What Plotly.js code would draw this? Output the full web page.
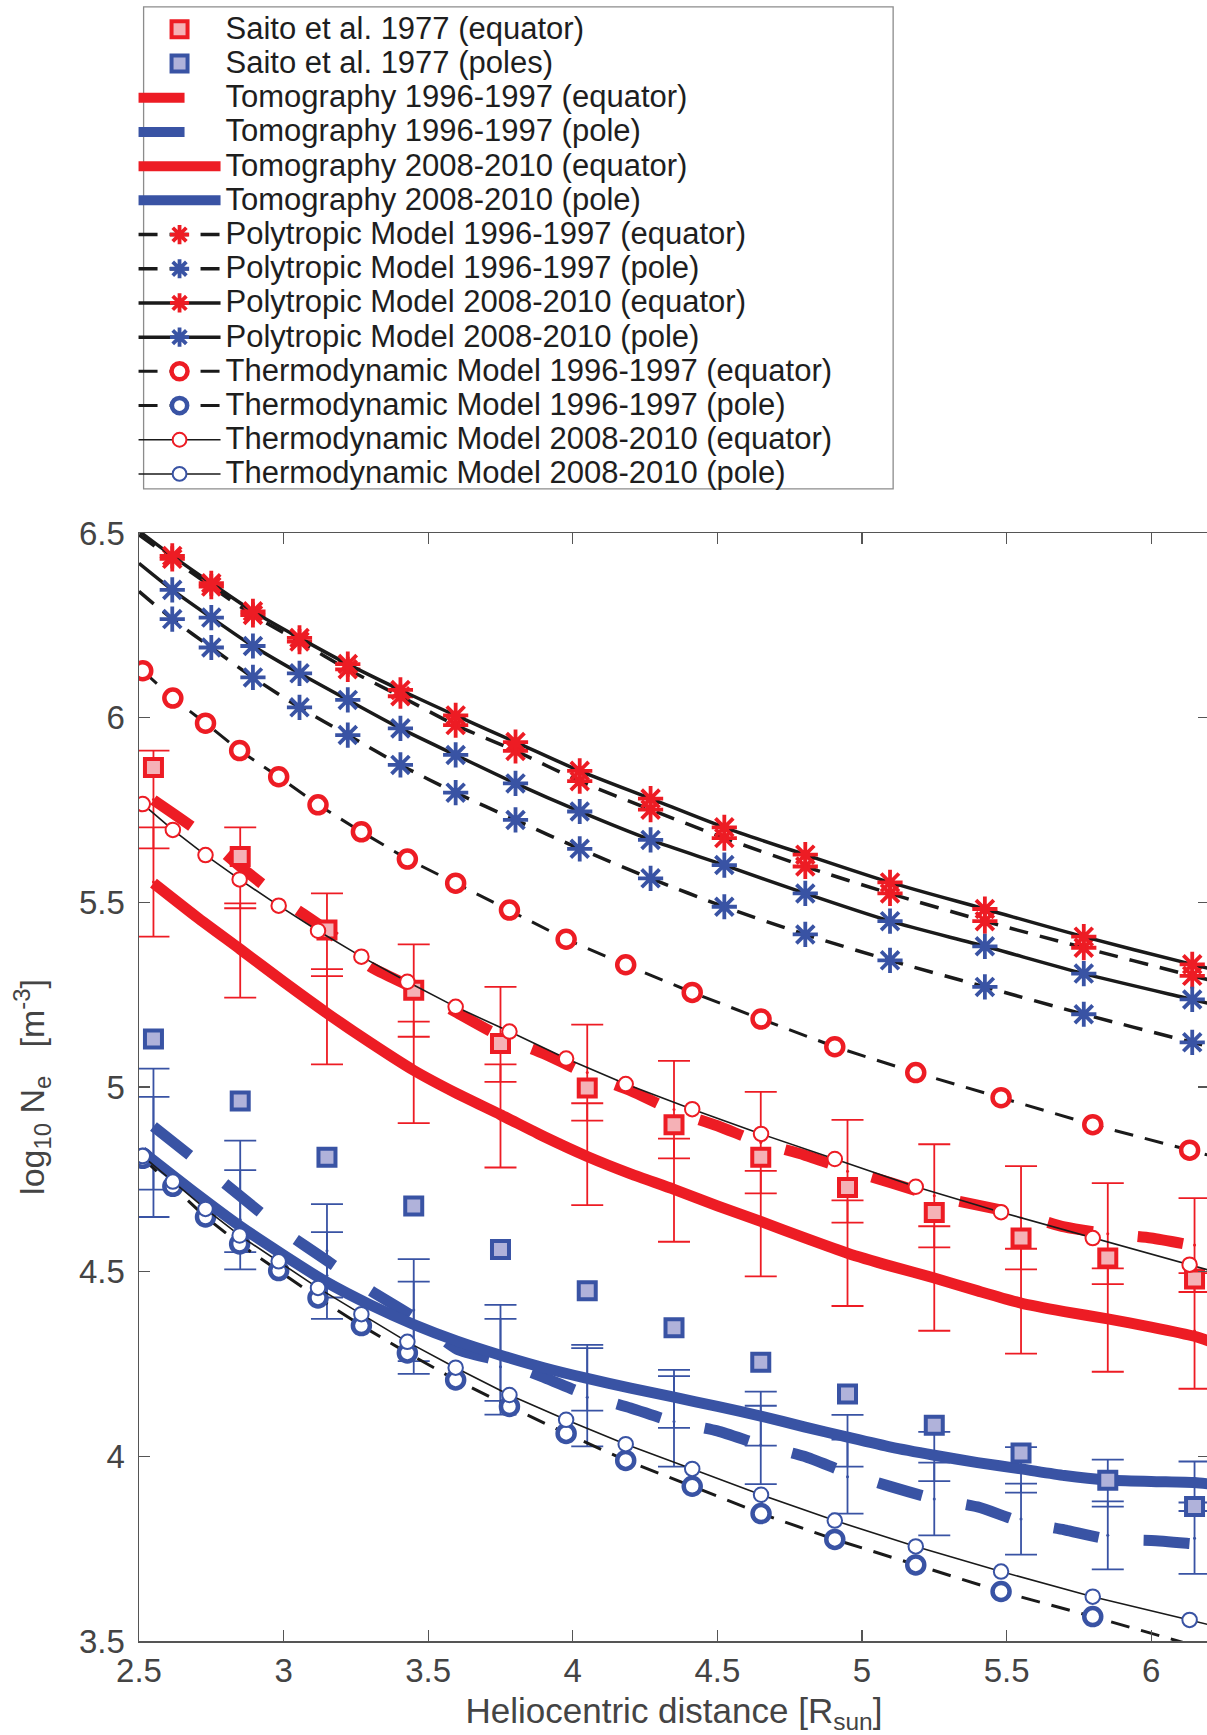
<!DOCTYPE html>
<html><head><meta charset="utf-8">
<script src="https://cdn.plot.ly/plotly-3.0.1.min.js"></script>
<style>
html,body{margin:0;padding:0;overflow:hidden;background:#fff;}
#chart{width:1250px;height:1735px;}
.legendtext{font-size:31px !important;}
</style></head><body><div id="chart"></div>
<script>
// ---------------- data ----------------
const xTickVals = [2.5, 3, 3.5, 4, 4.5, 5, 5.5, 6];
const xTickText = ['2.5', '3', '3.5', '4', '4.5', '5', '5.5', '6'];
const yTickVals = [3.5, 4, 4.5, 5, 5.5, 6, 6.5];
const yTickText = ['3.5', '4', '4.5', '5', '5.5', '6', '6.5'];

// Saito et al. 1977
const saitoX    = [2.55, 2.85, 3.15, 3.45, 3.75, 4.05, 4.35, 4.65, 4.95, 5.25, 5.55, 5.85, 6.15];
const saitoEq   = [5.865, 5.624, 5.425, 5.262, 5.118, 4.997, 4.898, 4.810, 4.728, 4.660, 4.591, 4.537, 4.480];
const saitoPole = [5.130, 4.962, 4.810, 4.678, 4.560, 4.448, 4.348, 4.255, 4.169, 4.084, 4.009, 3.935, 3.864];

// error bar ends (at saitoX)
const errEq96Hi  = [5.911, 5.703, 5.524, 5.386, 5.271, 5.169, 5.071, 4.987, 4.911, 4.845, 4.786, 4.740, 4.699];
const errEq96Lo  = [5.646, 5.484, 5.300, 5.136, 5.014, 4.909, 4.807, 4.712, 4.633, 4.566, 4.506, 4.466, 4.445];
const errEq08Hi  = [5.703, 5.497, 5.319, 5.177, 5.061, 4.956, 4.860, 4.773, 4.693, 4.623, 4.562, 4.509, 4.496];
const errEq08Lo  = [5.407, 5.242, 5.061, 4.902, 4.782, 4.680, 4.581, 4.487, 4.407, 4.340, 4.278, 4.229, 4.183];
const errPoleAHi = [5.050, 4.855, 4.683, 4.534, 4.410, 4.302, 4.234, 4.175, 4.112, 4.066, 4.025, 3.991, 3.986];
const errPoleALo = [4.722, 4.553, 4.430, 4.258, 4.150, 4.124, 4.077, 4.029, 3.972, 3.933, 3.902, 3.864, 3.852];
const errPoleBHi = [4.973, 4.775, 4.607, 4.473, 4.372, 4.293, 4.217, 4.137, 4.045, 3.983, 3.926, 3.878, 3.875];
const errPoleBLo = [4.648, 4.506, 4.372, 4.223, 4.113, 4.027, 3.972, 3.925, 3.845, 3.786, 3.734, 3.694, 3.682];

// Tomography
const tomoX      = [2.55, 2.7, 2.85, 3.0, 3.15, 3.3, 3.45, 3.6, 3.75, 3.9, 4.05, 4.2, 4.35, 4.5, 4.65, 4.8, 4.95, 5.1, 5.25, 5.4, 5.55, 5.7, 5.85, 6.0, 6.15, 6.2];
const tomoPoleX  = [2.51, 2.7, 2.85, 3.0, 3.15, 3.3, 3.45, 3.6, 3.75, 3.9, 4.05, 4.2, 4.35, 4.5, 4.65, 4.8, 4.95, 5.1, 5.25, 5.4, 5.55, 5.7, 5.85, 6.0, 6.15, 6.2];
const tomo96Eq   = [5.777, 5.695, 5.597, 5.505, 5.424, 5.326, 5.268, 5.201, 5.137, 5.090, 5.035, 4.990, 4.935, 4.895, 4.849, 4.816, 4.776, 4.741, 4.705, 4.680, 4.655, 4.621, 4.603, 4.591, 4.570, 4.563];
const tomo96Pole = [4.893, 4.800, 4.705, 4.610, 4.530, 4.449, 4.377, 4.290, 4.258, 4.214, 4.166, 4.131, 4.093, 4.069, 4.031, 4.000, 3.955, 3.918, 3.885, 3.863, 3.823, 3.801, 3.776, 3.772, 3.763, 3.760];
const tomo08Eq   = [5.552, 5.460, 5.373, 5.285, 5.200, 5.120, 5.045, 4.982, 4.925, 4.866, 4.812, 4.765, 4.723, 4.678, 4.636, 4.592, 4.550, 4.515, 4.483, 4.448, 4.415, 4.392, 4.372, 4.350, 4.325, 4.312];
const tomo08Pole = [4.826, 4.710, 4.623, 4.545, 4.471, 4.410, 4.357, 4.312, 4.274, 4.240, 4.211, 4.185, 4.160, 4.135, 4.109, 4.080, 4.052, 4.025, 4.003, 3.983, 3.966, 3.948, 3.936, 3.932, 3.929, 3.925];

// Polytropic model (first and last entries are line ends without a marker)
const polyX      = [2.5, 2.615, 2.750, 2.894, 3.055, 3.222, 3.404, 3.595, 3.802, 4.024, 4.269, 4.524, 4.804, 5.097, 5.425, 5.767, 6.142, 6.2];
const poly96Eq   = [6.495, 6.430, 6.355, 6.278, 6.206, 6.131, 6.058, 5.980, 5.910, 5.828, 5.751, 5.674, 5.597, 5.524, 5.449, 5.377, 5.301, 5.290];
const poly96Pole = [6.342, 6.267, 6.190, 6.109, 6.028, 5.953, 5.872, 5.797, 5.723, 5.645, 5.565, 5.488, 5.413, 5.343, 5.271, 5.197, 5.121, 5.109];
const poly08Eq   = [6.505, 6.438, 6.364, 6.288, 6.216, 6.145, 6.075, 6.006, 5.934, 5.856, 5.781, 5.703, 5.629, 5.554, 5.482, 5.407, 5.332, 5.321];
const poly08Pole = [6.418, 6.346, 6.271, 6.194, 6.120, 6.048, 5.971, 5.899, 5.822, 5.746, 5.669, 5.601, 5.524, 5.449, 5.381, 5.307, 5.237, 5.226];

// Thermodynamic model (last entry is the line end without a marker)
const thermoX      = [2.513, 2.617, 2.730, 2.848, 2.983, 3.119, 3.269, 3.428, 3.595, 3.781, 3.977, 4.183, 4.413, 4.651, 4.906, 5.186, 5.481, 5.798, 6.133, 6.2];
const thermo96Eq   = [6.127, 6.053, 5.985, 5.911, 5.840, 5.764, 5.691, 5.617, 5.552, 5.479, 5.400, 5.331, 5.256, 5.184, 5.109, 5.039, 4.971, 4.898, 4.829, 4.815];
const thermo96Pole = [4.807, 4.731, 4.648, 4.575, 4.503, 4.429, 4.354, 4.280, 4.207, 4.135, 4.062, 3.989, 3.919, 3.845, 3.775, 3.706, 3.634, 3.566, 3.490, 3.476];
const thermo08Eq   = [5.766, 5.696, 5.628, 5.562, 5.491, 5.423, 5.353, 5.285, 5.217, 5.150, 5.077, 5.008, 4.940, 4.873, 4.805, 4.730, 4.661, 4.591, 4.519, 4.504];
const thermo08Pole = [4.813, 4.744, 4.670, 4.598, 4.528, 4.456, 4.385, 4.310, 4.240, 4.166, 4.099, 4.033, 3.966, 3.896, 3.826, 3.756, 3.688, 3.620, 3.557, 3.544];

// ---------------- styling ----------------
const RED = '#ED1C24', BLUE = '#3953A4', PINK = '#F5B1B6', LAV = '#B0B2DA';
const FONT = '"Liberation Sans", Arial, Helvetica, sans-serif';
const AX = '#555555', TXT = '#444444';
const yMin = 3.5, yMax = 6.5, xMin = 2.5, xMax = 6.2;

function errTrace(hi, lo, color) {
  return {
    type: 'scatter', mode: 'markers', x: saitoX,
    y: hi.map((h, i) => (h + lo[i]) / 2),
    showlegend: false, hoverinfo: 'skip',
    marker: {size: 3, color: color, opacity: 1},
    error_y: {type: 'data', symmetric: true, array: hi.map((h, i) => (h - lo[i]) / 2),
              color: color, thickness: 1.8, width: 16, visible: true}
  };
}
function tomo(name, x, y, color, dash, rank) {
  return {type: 'scatter', mode: 'lines', name: name, x: x, y: y, legendrank: rank,
    line: {color: color, width: 11, dash: dash, shape: 'spline', smoothing: 0.6}};
}
function endSizes(arr, s) { return arr.map((v, i) => (i === 0 || i === arr.length - 1) ? 0 : s); }
function poly(name, y, color, dash, rank) {
  return {type: 'scatter', mode: 'lines+markers', name: name, x: polyX, y: y, legendrank: rank,
    line: {color: '#1a1a1a', width: 3.5, dash: dash, shape: 'spline', smoothing: 0.8},
    marker: {symbol: 'asterisk-open', size: endSizes(polyX, 21), opacity: 1, color: color,
             line: {color: color, width: 3.8}}};
}
function thermo(name, y, color, dash, lw, size, mlw, rank) {
  return {type: 'scatter', mode: 'lines+markers', name: name, x: thermoX, y: y, legendrank: rank,
    line: {color: '#1a1a1a', width: lw, dash: dash},
    marker: {symbol: 'circle', color: '#ffffff', opacity: 1,
      size: y.map((v, i) => (i === y.length - 1 || v < yMin) ? 0 : size),
      line: {color: color, width: mlw}}};
}
function saito(name, y, color, fill, rank) {
  return {type: 'scatter', mode: 'markers', name: name, x: saitoX, y: y, legendrank: rank,
    marker: {symbol: 'square', size: 17, opacity: 1, color: fill, line: {color: color, width: 4}}};
}

const traces = [
  errTrace(errEq96Hi, errEq96Lo, RED),
  errTrace(errEq08Hi, errEq08Lo, RED),
  errTrace(errPoleAHi, errPoleALo, BLUE),
  errTrace(errPoleBHi, errPoleBLo, BLUE),
  tomo('Tomography 1996-1997 (equator)', tomoX, tomo96Eq, RED, '46px,45px', 3),
  tomo('Tomography 1996-1997 (pole)', tomoX, tomo96Pole, BLUE, '46px,45px', 4),
  tomo('Tomography 2008-2010 (equator)', tomoX, tomo08Eq, RED, 'solid', 5),
  tomo('Tomography 2008-2010 (pole)', tomoPoleX, tomo08Pole, BLUE, 'solid', 6),
  saito('Saito et al. 1977 (equator)', saitoEq, RED, PINK, 1),
  saito('Saito et al. 1977 (poles)', saitoPole, BLUE, LAV, 2),
  poly('Polytropic Model 1996-1997 (equator)', poly96Eq, RED, '19px,12px', 7),
  poly('Polytropic Model 1996-1997 (pole)', poly96Pole, BLUE, '19px,12px', 8),
  poly('Polytropic Model 2008-2010 (equator)', poly08Eq, RED, 'solid', 9),
  poly('Polytropic Model 2008-2010 (pole)', poly08Pole, BLUE, 'solid', 10),
  thermo('Thermodynamic Model 1996-1997 (equator)', thermo96Eq, RED, '19px,12px', 3, 17, 4.5, 11),
  thermo('Thermodynamic Model 1996-1997 (pole)', thermo96Pole, BLUE, '19px,12px', 3, 17, 4.5, 12),
  thermo('Thermodynamic Model 2008-2010 (equator)', thermo08Eq, RED, 'solid', 1.6, 14.5, 2, 13),
  thermo('Thermodynamic Model 2008-2010 (pole)', thermo08Pole, BLUE, 'solid', 1.6, 14.5, 2, 14)
];

const axisCommon = {
  showgrid: false, zeroline: false, showline: true, linecolor: AX, linewidth: 1.5,
  mirror: 'ticks', ticks: 'inside', ticklen: 11, tickwidth: 1.3, tickcolor: AX,
  tickfont: {family: FONT, size: 33, color: TXT}, automargin: false
};

const layout = {
  width: 1250, height: 1735,
  paper_bgcolor: '#ffffff', plot_bgcolor: '#ffffff',
  margin: {l: 139.4, r: 40.6, t: 533.2, b: 94.4, autoexpand: false},
  font: {family: FONT, color: TXT},
  showlegend: true,
  legend: {x: -0.0051, y: 1.4745, xanchor: 'left', yanchor: 'top', xref: 'paper', yref: 'paper',
    bgcolor: 'rgba(0,0,0,0)', borderwidth: 0, itemwidth: 82, traceorder: 'normal',
    font: {family: FONT, size: 24, color: '#1e1e1e'}},
  xaxis: Object.assign({}, axisCommon, {
    range: [xMin, xMax], tickvals: xTickVals, ticktext: xTickText, ticklabelstandoff: 0,
    title: {text: 'Heliocentric distance [R<sub>sun</sub>]', font: {family: FONT, size: 35, color: TXT}, standoff: 14}
  }),
  yaxis: Object.assign({}, axisCommon, {
    range: [yMin, yMax], tickvals: yTickVals, ticktext: yTickText, ticklabelstandoff: 6,
    title: {text: 'log<sub>10</sub> N<sub>e</sub>\u00a0\u00a0\u00a0[m<sup>-3</sup>]', font: {family: FONT, size: 34, color: TXT}, standoff: 24}
  }),
  shapes: [{type: 'rect', xref: 'paper', yref: 'paper', x0: 0.0043, x1: 0.7048, y0: 1.0399, y1: 1.4749,
    line: {color: '#8c8c8c', width: 1.3}, fillcolor: 'rgba(0,0,0,0)', layer: 'above'}]
};

Plotly.newPlot('chart', traces, layout, {displayModeBar: false, staticPlot: true});
</script></body></html>
